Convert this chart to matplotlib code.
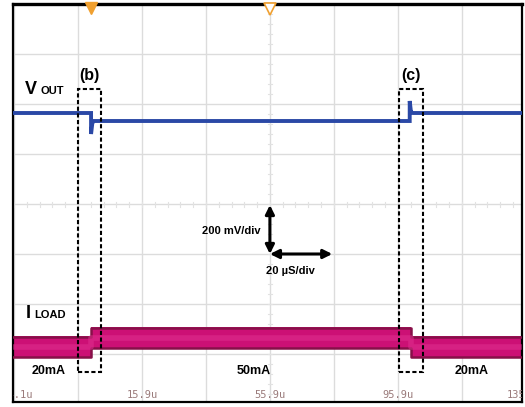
import matplotlib
matplotlib.use("Agg")
import matplotlib.pyplot as plt
from matplotlib.patches import Rectangle
import numpy as np

# ---------------- data ----------------
# time axis in microseconds, vertical in scope divisions
time_labels = ["-24.1u", "15.9u", "55.9u", "95.9u", "135.9u"]
time_label_pos = [-24.1, 15.9, 55.9, 95.9, 135.9]
grid_t = [-24.1, -4.1, 15.9, 35.9, 55.9, 75.9, 95.9, 115.9, 135.9]
grid_y = [-4, -3, -2, -1, 0, 1, 2, 3, 4]

# VOUT trace (divisions)
vout_t = [-25.0, 0.0, 0.0, 0.4, 0.9, 99.6, 99.6, 100.0, 100.6, 136.0]
vout_v = [1.82, 1.82, 1.40, 1.62, 1.66, 1.66, 2.06, 1.84, 1.82, 1.82]

# ILOAD trace (centre of band, divisions)
iload_t = [-25.0, 0.0, 0.0, 100.0, 100.0, 136.0]
iload_v = [-2.86, -2.86, -2.68, -2.68, -2.86, -2.86]
iload_labels = ["20mA", "50mA", "20mA"]
iload_label_t = [-13.2, 50.9, 119.0]

# highlighted transition windows
box_labels = ["(b)", "(c)"]
box_t0 = [-4.1, 96.2]
box_t1 = [3.1, 103.7]

# ---------------- figure ----------------
W, H = 525, 407
fig = plt.figure(figsize=(W / 100, H / 100), dpi=100)
fig.patch.set_facecolor("white")
ax = fig.add_axes([13 / W, 5 / H, 509 / W, 398 / H])
ax.set_xlim(-24.4, 134.7)
ax.set_ylim(-3.96, 4.0)
ax.set_xticks([])
ax.set_yticks([])
for s in ax.spines.values():
    s.set_linewidth(1.6)
    s.set_color("black")
ax.spines["top"].set_linewidth(2.4)

gc = "#dcdcdc"
for t in grid_t:
    ax.axvline(t, color=gc, lw=1.0, zorder=0)
for y in grid_y:
    ax.axhline(y, color=gc, lw=1.0, zorder=0)

# centre-line minor ticks
tc = "#e2e2e2"
for y in np.arange(-4, 4.01, 0.2):
    ax.plot([55.9 - 0.7, 55.9 + 0.7], [y, y], color=tc, lw=0.8, zorder=0)
for t in np.arange(-24.1, 135.9, 4.0):
    ax.plot([t, t], [-0.05, 0.05], color=tc, lw=0.8, zorder=0)

# ILOAD band
tt = np.array(iload_t)
vv = np.array(iload_v)
ax.fill_between(tt, vv - 0.22, vv + 0.22, color="#cc1075", lw=0, zorder=2)
ax.plot(tt, vv + 0.2, color="#861048", lw=1.8, zorder=3)
ax.plot(tt, vv - 0.2, color="#861048", lw=1.8, zorder=3)
ax.plot(tt, vv, color="#e0308f", lw=4, zorder=3, alpha=0.55)

# VOUT trace
ax.plot(vout_t, vout_v, color="#2a48a6", lw=2.8, zorder=4, solid_joinstyle="miter")

# dashed boxes
for lab, a, b in zip(box_labels, box_t0, box_t1):
    ax.add_patch(Rectangle((a, -3.36), b - a, 2.3 + 3.36, fill=False,
                           ec="black", lw=1.5, ls=(0, (2, 1.2)), zorder=6))
    ax.text((a + b) / 2, 2.58, lab, ha="center", va="center", fontsize=11.5,
            fontweight="bold", family="Liberation Sans", zorder=7)

# trigger markers
ax.plot([0.0], [3.92], marker="v", ms=8, color="#f0a030", mec="#f0a030",
        clip_on=False, zorder=8)
ax.plot([55.9], [3.9], marker="v", ms=9, mfc="white", mec="#f0a030", mew=1.2,
        clip_on=False, zorder=8)

# signal labels
bold = dict(fontweight="bold", family="Liberation Sans", color="black")
ax.text(-20.6, 2.2, "V", fontsize=13, ha="left", va="baseline", **bold)
ax.text(-15.8, 2.2, "OUT", fontsize=8, ha="left", va="baseline", **bold)
ax.text(-20.4, -2.28, "I", fontsize=13, ha="left", va="baseline", **bold)
ax.text(-17.9, -2.28, "LOAD", fontsize=8, ha="left", va="baseline", **bold)

for lab, t in zip(iload_labels, iload_label_t):
    ax.text(t, -3.34, lab, fontsize=9, ha="center", va="center", **bold)

# scale arrows
ax.annotate("", xy=(55.9, -0.02), xytext=(55.9, -1.0),
            arrowprops=dict(arrowstyle="<|-|>", color="black", lw=2.2,
                            mutation_scale=13, shrinkA=0, shrinkB=0), zorder=7)
ax.annotate("", xy=(75.4, -1.0), xytext=(55.9, -1.0),
            arrowprops=dict(arrowstyle="<|-|>", color="black", lw=2.2,
                            mutation_scale=13, shrinkA=0, shrinkB=0), zorder=7)
ax.text(53.1, -0.54, "200 mV/div", fontsize=8, ha="right", va="center", **bold)
ax.text(54.7, -1.34, "20 µS/div", fontsize=8, ha="left", va="center", **bold)

# time labels
for lab, t in zip(time_labels, time_label_pos):
    ax.text(t, -3.82, lab, fontsize=7.5, ha="center", va="center",
            family="DejaVu Sans Mono", color="#9a7a7a", clip_on=True, zorder=5)

fig.savefig("out.png", dpi=100, facecolor="white")
